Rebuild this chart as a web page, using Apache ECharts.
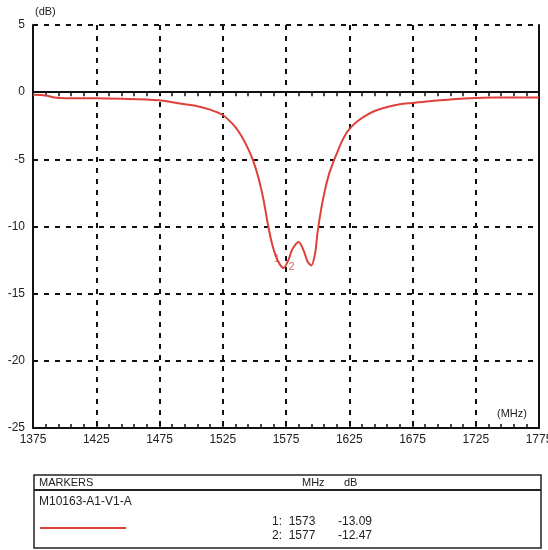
<!DOCTYPE html>
<html><head><meta charset="utf-8">
<script src="https://cdn.jsdelivr.net/npm/echarts@6/dist/echarts.min.js"></script>
<style>html,body{margin:0;padding:0;background:#fff}#c{width:548px;height:550px}</style>
</head><body><div id="c"></div>
<script>
const freqMHz = [1375,1385,1392,1400,1425,1450,1465,1475,1485,1495,1505,1515,1525,1530,1535,1540,1545,1549,1553,1557,1561,1564,1567,1570,1573,1577,1580,1585,1589,1592,1595,1598,1600,1603,1606,1609,1612,1615,1619,1623,1627,1631,1637,1645,1655,1665,1675,1690,1705,1720,1740,1775];
const gainDB = [-0.2,-0.25,-0.4,-0.45,-0.45,-0.5,-0.55,-0.6,-0.75,-0.9,-1.05,-1.3,-1.7,-2.1,-2.6,-3.3,-4.2,-5.1,-6.3,-7.9,-10.0,-11.3,-12.2,-12.8,-13.09,-12.47,-11.7,-11.15,-11.8,-12.6,-12.9,-12.0,-10.4,-8.6,-7.2,-6.1,-5.3,-4.6,-3.7,-3.0,-2.55,-2.2,-1.8,-1.4,-1.1,-0.9,-0.8,-0.65,-0.55,-0.45,-0.4,-0.4];
const markerNames = ['1','2'];
const markerMHz = [1573,1577];
const markerDB = [-13.09,-12.47];
const traceName = 'M10163-A1-V1-A';

const FONT = "'Liberation Sans Narrow','Liberation Sans',Arial,sans-serif";
const chart = echarts.init(document.getElementById('c'));
const gridLine = {show:true, lineStyle:{color:'#111', width:2, type:[5,6]}};
const tick = {show:true, inside:true, length:4, lineStyle:{color:'#111', width:1.5}};
const minor = {show:true, splitNumber:5, length:4, lineStyle:{color:'#111', width:1.5}};
chart.setOption({
  animation:false,
  grid:{left:33, right:9, top:25, bottom:122, containLabel:false, outerBoundsMode:'none'},
  xAxis:[{
    type:'value', min:1375, max:1775, interval:50,
    axisLine:{show:true, onZero:false, lineStyle:{color:'#111', width:2}},
    axisTick:tick, minorTick:minor,
    axisLabel:{color:'#222', fontFamily:FONT, fontSize:12, margin:6, formatter:v=>String(v)},
    splitLine:gridLine
  },{
    type:'value', min:1375, max:1775, interval:50, position:'top',
    axisLine:{show:true, lineStyle:{color:'#111', width:2}},
    axisTick:tick, minorTick:minor,
    axisLabel:{show:false}, splitLine:{show:false}
  }],
  yAxis:[{
    type:'value', min:-25, max:5, interval:5,
    axisLine:{show:true, lineStyle:{color:'#111', width:2}},
    axisTick:{show:false},
    axisLabel:{color:'#222', fontFamily:FONT, fontSize:12, margin:8},
    splitLine:gridLine
  },{
    type:'value', min:-25, max:5, interval:5, position:'right',
    axisLine:{show:true, lineStyle:{color:'#111', width:2}},
    axisTick:{show:false}, axisLabel:{show:false}, splitLine:{show:false}
  }],
  series:[{
    type:'line', name:traceName, smooth:0.3, symbol:'none',
    data:freqMHz.map((f,i)=>[f,gainDB[i]]),
    lineStyle:{color:'#e0403a', width:2},
    markLine:{silent:true, symbol:'none', label:{show:false},
      lineStyle:{color:'#111', width:1.5, type:'solid'},
      data:[{yAxis:0}]},
    z:3
  },{
    type:'scatter', symbol:'circle', symbolSize:1,
    data:markerMHz.map((f,i)=>({value:[f,markerDB[i]], name:markerNames[i],
      label:{show:true, formatter:markerNames[i], color:'#e0403a', fontFamily:FONT, fontSize:11,
        position:i===0?'left':'bottom', distance:i===0?3:1, offset:i===0?[0,-9]:[3,0]}})),
    itemStyle:{color:'#e0403a'}, z:4
  }],
  graphic:[
    {type:'text', left:35, top:6, style:{text:'(dB)', font:'11px '+FONT, fill:'#222'}},
    {type:'text', left:497, top:408, style:{text:'(MHz)', font:'11px '+FONT, fill:'#222'}},
    {type:'rect', shape:{x:34, y:475, width:507, height:73}, style:{fill:'none', stroke:'#222', lineWidth:1.5}},
    {type:'line', shape:{x1:34, y1:490, x2:541, y2:490}, style:{stroke:'#222', lineWidth:2}},
    {type:'text', left:39, top:477, style:{text:'MARKERS', font:'11px '+FONT, fill:'#222'}},
    {type:'text', left:302, top:477, style:{text:'MHz', font:'11px '+FONT, fill:'#222'}},
    {type:'text', left:344, top:477, style:{text:'dB', font:'11px '+FONT, fill:'#222'}},
    {type:'text', left:39, top:496, style:{text:traceName, font:'12px '+FONT, fill:'#222'}},
    {type:'line', shape:{x1:40, y1:528, x2:126, y2:528}, style:{stroke:'#e0403a', lineWidth:2}},
    {type:'text', left:272, top:516, style:{text:markerNames[0]+':  '+markerMHz[0], font:'12px '+FONT, fill:'#222'}},
    {type:'text', left:338, top:516, style:{text:markerDB[0].toFixed(2), font:'12px '+FONT, fill:'#222'}},
    {type:'text', left:272, top:530, style:{text:markerNames[1]+':  '+markerMHz[1], font:'12px '+FONT, fill:'#222'}},
    {type:'text', left:338, top:530, style:{text:markerDB[1].toFixed(2), font:'12px '+FONT, fill:'#222'}}
  ]
});
</script></body></html>
